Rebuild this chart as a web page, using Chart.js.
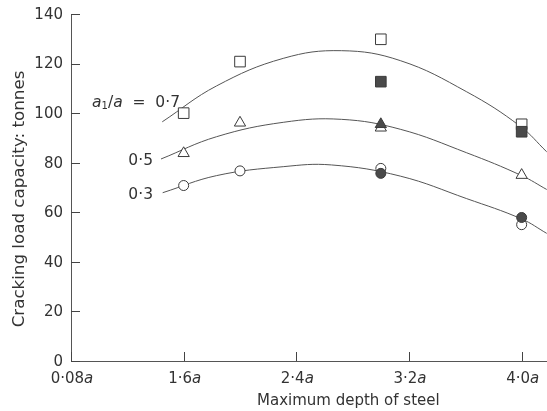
<!DOCTYPE html>
<html>
<head>
<meta charset="utf-8">
<script src="https://cdn.jsdelivr.net/npm/chart.js@4.4.1/dist/chart.umd.min.js"></script>
<style>
html,body{margin:0;padding:0;background:#fff;}
#wrap{position:relative;width:547px;height:411px;}
</style>
</head>
<body>
<div id="wrap"><canvas id="c" width="547" height="411"></canvas></div>
<script>
// ---- data ----
const xTickValues = [0.8, 1.6, 2.4, 3.2, 4.0];
const xTickLabels = ['0·08', '1·6', '2·4', '3·2', '4·0'];
const yTickValues = [0, 20, 40, 60, 80, 100, 120, 140];

const depthTests = [1.6, 2.0, 3.0, 4.0];
const openSquares = [100, 120.8, 129.8, 95.5];
const filledSquareX = [3.0, 4.0];
const filledSquares = [112.7, 92.5];
const openTriangles = [83.8, 96.1, 94.1, 75];
const filledTriangleX = [3.0];
const filledTriangles = [95.5];
const openCircles = [70.8, 76.7, 77.7, 55];
const filledCircleX = [3.0, 4.0];
const filledCircles = [75.7, 57.9];

const curve07X = [1.448, 1.834, 2.307, 2.72, 3.138, 3.61, 3.988, 4.178];
const curve07Y = [96.5, 111, 122.1, 125.2, 121.2, 108.6, 94.8, 84.4];
const curve05X = [1.439, 1.834, 2.307, 2.72, 3.138, 3.61, 4.0, 4.178];
const curve05Y = [81.5, 90.5, 96.3, 97.5, 93.5, 84, 74.8, 69.2];
const curve03X = [1.451, 1.834, 2.307, 2.65, 3.138, 3.61, 4.0, 4.178];
const curve03Y = [67.9, 74.8, 78.4, 79.1, 74.6, 65.5, 57.3, 51.5];

const curveLabels = ['0·7', '0·5', '0·3'];

const pts = (xs, ys) => xs.map((x, i) => ({x: x, y: ys[i]}));

const FONT = '"DejaVu Sans", sans-serif';
const TXT = '#333';
const MK = '#3a3a3a';
const FILL = '#4a4a4a';

function markerSet(xs, ys, style, filled, r) {
  return {
    type: 'scatter', data: pts(xs, ys), showLine: false,
    pointStyle: style, pointRadius: r, pointHoverRadius: r,
    pointBackgroundColor: filled ? FILL : '#fff',
    pointBorderColor: MK, pointBorderWidth: 1
  };
}
function curveSet(xs, ys) {
  return {
    type: 'line', data: pts(xs, ys), borderColor: '#555', borderWidth: 1,
    pointRadius: 0, pointHoverRadius: 0, tension: 0.4, fill: false
  };
}

function drawRich(ctx, parts, x, y, align, size) {
  let w = 0;
  parts.forEach(p => {
    ctx.font = (p.italic ? 'italic ' : '') + (p.size || size) + 'px ' + FONT;
    p.w = ctx.measureText(p.t).width; w += p.w;
  });
  let cx = align === 'center' ? x - w / 2 : (align === 'right' ? x - w : x);
  ctx.textAlign = 'left';
  ctx.textBaseline = 'alphabetic';
  parts.forEach(p => {
    ctx.font = (p.italic ? 'italic ' : '') + (p.size || size) + 'px ' + FONT;
    ctx.fillText(p.t, cx, y + (p.dy || 0));
    cx += p.w;
  });
}

const decor = {
  id: 'decor',
  afterDraw(chart) {
    const ctx = chart.ctx, xs = chart.scales.x, ys = chart.scales.y;
    const area = chart.chartArea;
    ctx.save();
    ctx.strokeStyle = '#444'; ctx.lineWidth = 1;
    // inward ticks
    yTickValues.forEach(v => {
      const py = Math.round(ys.getPixelForValue(v)) + 0.5;
      ctx.beginPath(); ctx.moveTo(area.left, py); ctx.lineTo(area.left + 9, py); ctx.stroke();
    });
    xTickValues.forEach(v => {
      const px = Math.round(xs.getPixelForValue(v)) + 0.5;
      ctx.beginPath(); ctx.moveTo(px, area.bottom); ctx.lineTo(px, area.bottom - 9); ctx.stroke();
    });
    ctx.fillStyle = TXT;
    // y labels
    ctx.font = '15px ' + FONT;
    ctx.textAlign = 'right'; ctx.textBaseline = 'middle';
    yTickValues.forEach(v => ctx.fillText(String(v), area.left - 8, ys.getPixelForValue(v) + 1));
    // x labels
    xTickValues.forEach((v, i) => {
      drawRich(ctx, [{t: xTickLabels[i]}, {t: 'a', italic: true}], xs.getPixelForValue(v) + 1, area.bottom + 22, 'center', 15);
    });
    // axis titles
    drawRich(ctx, [{t: 'Maximum depth of steel'}], 257, 405, 'left', 15);
    ctx.save();
    ctx.translate(24, 199); ctx.rotate(-Math.PI / 2);
    ctx.font = '16.7px ' + FONT; ctx.textAlign = 'center'; ctx.textBaseline = 'alphabetic';
    ctx.fillText('Cracking load capacity: tonnes', 0, 0);
    ctx.restore();
    // curve labels
    drawRich(ctx, [{t: 'a', italic: true}, {t: '1', size: 10, dy: 2}, {t: '/'}, {t: 'a', italic: true}, {t: '  =  ' + curveLabels[0]}], 180, 107, 'right', 15.5);
    drawRich(ctx, [{t: curveLabels[1]}], 153, 165, 'right', 15.5);
    drawRich(ctx, [{t: curveLabels[2]}], 153, 199, 'right', 15.5);
    ctx.restore();
  }
};

new Chart(document.getElementById('c'), {
  data: {
    datasets: [
      markerSet(filledSquareX, filledSquares, 'rect', true, 7.5),
      markerSet(filledTriangleX, filledTriangles, 'triangle', true, 6.5),
      markerSet(filledCircleX, filledCircles, 'circle', true, 5),
      markerSet(depthTests, openSquares, 'rect', false, 7.5),
      markerSet(depthTests, openTriangles, 'triangle', false, 6.5),
      markerSet(depthTests, openCircles, 'circle', false, 5),
      curveSet(curve07X, curve07Y),
      curveSet(curve05X, curve05Y),
      curveSet(curve03X, curve03Y)
    ]
  },
  options: {
    responsive: false, animation: false, devicePixelRatio: 1,
    layout: {autoPadding: false, padding: {left: 71, top: 14, right: 0, bottom: 50}},
    plugins: {legend: {display: false}, tooltip: {enabled: false}, title: {display: false}},
    scales: {
      x: {
        type: 'linear', min: 0.8, max: 4.18,
        ticks: {display: false},
        grid: {display: false, drawTicks: false},
        border: {display: true, color: '#555', width: 1}
      },
      y: {
        type: 'linear', min: 0, max: 140,
        ticks: {display: false},
        grid: {display: false, drawTicks: false},
        border: {display: true, color: '#555', width: 1}
      }
    }
  },
  plugins: [decor]
});
</script>
</body>
</html>
